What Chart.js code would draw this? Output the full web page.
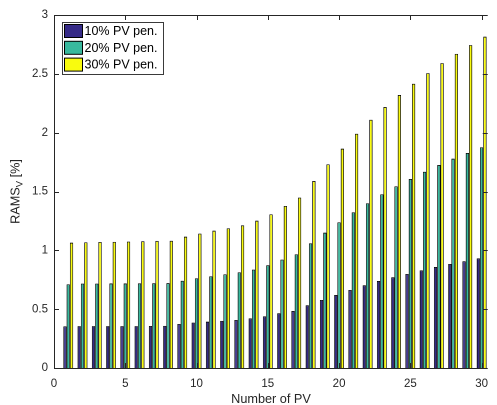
<!DOCTYPE html>
<html>
<head>
<meta charset="utf-8">
<script src="https://cdn.jsdelivr.net/npm/chart.js@4/dist/chart.umd.min.js"></script>
<style>
html,body{margin:0;padding:0;background:#fff;overflow:hidden;}
#wrap{position:relative;width:497px;height:405px;}
</style>
</head>
<body>
<div id="wrap"><canvas id="c" style="width:497px;height:405px"></canvas></div>
<script>
const categories = [1,2,3,4,5,6,7,8,9,10,11,12,13,14,15,16,17,18,19,20,21,22,23,24,25,26,27,28,29,30];
const seriesNames = ['10% PV pen.','20% PV pen.','30% PV pen.'];
const pv10 = [0.354,0.356,0.356,0.356,0.356,0.356,0.357,0.358,0.374,0.386,0.394,0.400,0.408,0.422,0.439,0.465,0.484,0.533,0.578,0.620,0.663,0.703,0.739,0.771,0.799,0.830,0.858,0.884,0.907,0.932];
const pv20 = [0.711,0.717,0.717,0.718,0.718,0.719,0.720,0.721,0.742,0.762,0.779,0.796,0.813,0.836,0.873,0.921,0.966,1.059,1.150,1.238,1.323,1.399,1.476,1.544,1.606,1.668,1.725,1.779,1.827,1.875];
const pv30 = [1.065,1.068,1.071,1.072,1.074,1.077,1.080,1.081,1.116,1.142,1.167,1.187,1.212,1.252,1.306,1.377,1.448,1.589,1.731,1.864,1.991,2.110,2.218,2.320,2.416,2.506,2.591,2.670,2.744,2.816];
const xTicks = [0,5,10,15,20,25,30];
const yTicks = [0,0.5,1,1.5,2,2.5,3];
const xTitle = 'Number of PV';
const yTitleMain = 'RAMS';
const yTitleSub = 'V';
const yTitleTail = ' [%]';

const colors = ['#352a87','#38b99e','#f9fb0e'];
const axisColor = '#262626';
const FONT = "'Liberation Sans', Arial, Helvetica, sans-serif";

const series = [pv10, pv20, pv30];
const datasets = series.map((vals, i) => ({
  label: seriesNames[i],
  data: categories.map((c, j) => ({x: c, y: vals[j]})),
  backgroundColor: colors[i],
  borderColor: '#000',
  borderWidth: 0.8,
  borderSkipped: 'start',
  inflateAmount: 0,
  categoryPercentage: 0.69,
  barPercentage: 1.0
}));

const decor = {
  id: 'decor',
  afterDatasetsDraw(chart) {
    const ctx = chart.ctx;
    const a = chart.chartArea;
    const xs = chart.scales.x, ys = chart.scales.y;
    ctx.save();
    ctx.strokeStyle = axisColor;
    ctx.lineWidth = 1;
    ctx.beginPath();
    ctx.moveTo(a.left + 0.5, a.bottom + 0.5);
    ctx.lineTo(a.left + 0.5, a.top + 0.5);
    ctx.lineTo(a.right, a.top + 0.5);
    ctx.moveTo(a.left, a.bottom + 0.5);
    ctx.lineTo(a.right, a.bottom + 0.5);
    const tl = 5;
    xTicks.forEach(v => {
      const px = Math.round(xs.getPixelForValue(v)) + 0.5;
      ctx.moveTo(px, a.bottom); ctx.lineTo(px, a.bottom - tl);
      ctx.moveTo(px, a.top); ctx.lineTo(px, a.top + tl);
    });
    yTicks.forEach(v => {
      const py = Math.round(ys.getPixelForValue(v)) + 0.5;
      ctx.moveTo(a.left, py); ctx.lineTo(a.left + tl, py);
      ctx.moveTo(a.right, py); ctx.lineTo(a.right - tl, py);
    });
    ctx.stroke();

    // legend box
    const lx = 62, ly = 22, lw = 101, lh = 52;
    ctx.fillStyle = '#fff';
    ctx.fillRect(lx, ly, lw, lh);
    ctx.strokeStyle = '#3a3a3a';
    ctx.strokeRect(lx + 0.5, ly + 0.5, lw, lh);
    ctx.font = '12.5px ' + FONT;
    ctx.textBaseline = 'middle';
    ctx.textAlign = 'left';
    chart.data.datasets.forEach((ds, i) => {
      const ry = 24.5 + i * 16.8;
      ctx.fillStyle = ds.backgroundColor;
      ctx.fillRect(64.5, ry, 18, 13);
      ctx.strokeStyle = '#000';
      ctx.strokeRect(64.5, ry, 18, 13);
      ctx.fillStyle = '#000';
      ctx.fillText(ds.label, 84.5, ry + 7);
    });

    // axis titles
    ctx.fillStyle = axisColor;
    ctx.textBaseline = 'alphabetic';
    ctx.font = '12.7px ' + FONT;
    ctx.textAlign = 'center';
    ctx.fillText(xTitle, 271, 403);

    ctx.translate(19.5, (a.top + a.bottom) / 2);
    ctx.rotate(-Math.PI / 2);
    const mainF = '12.7px ' + FONT, subF = '9.5px ' + FONT;
    ctx.font = mainF; const w1 = ctx.measureText(yTitleMain).width; const w3 = ctx.measureText(yTitleTail).width;
    ctx.font = subF; const w2 = ctx.measureText(yTitleSub).width;
    let x0 = -(w1 + w2 + w3) / 2;
    ctx.textAlign = 'left';
    ctx.font = mainF; ctx.fillText(yTitleMain, x0, 0);
    ctx.font = subF; ctx.fillText(yTitleSub, x0 + w1, 3);
    ctx.font = mainF; ctx.fillText(yTitleTail, x0 + w1 + w2, 0);
    ctx.restore();
  }
};

new Chart(document.getElementById('c'), {
  type: 'bar',
  data: { datasets },
  options: {
    responsive: false,
    maintainAspectRatio: false,
    animation: false,
    devicePixelRatio: 2,
    layout: { padding: { top: 15, right: 0, bottom: 0, left: 0 } },
    plugins: { legend: { display: false }, tooltip: { enabled: false } },
    scales: {
      x: {
        type: 'linear',
        min: 0,
        max: 30.43,
        offset: false,
        grid: { display: false, drawTicks: false, offset: false },
        border: { display: false },
        afterBuildTicks: s => { s.ticks = xTicks.map(v => ({value: v})); },
        afterFit: s => { s.height = 37; },
        ticks: { color: axisColor, font: { family: FONT, size: 11.5 }, padding: 9, maxRotation: 0, autoSkip: false,
                 callback: v => String(v) }
      },
      y: {
        min: 0,
        max: 3,
        grid: { display: false, drawTicks: false },
        border: { display: false },
        afterBuildTicks: s => { s.ticks = yTicks.map(v => ({value: v})); },
        afterFit: s => { s.width = 54; },
        ticks: { color: axisColor, font: { family: FONT, size: 11.5 }, padding: 6,
                 callback: v => String(v) }
      }
    }
  },
  plugins: [decor]
});
</script>
</body>
</html>
